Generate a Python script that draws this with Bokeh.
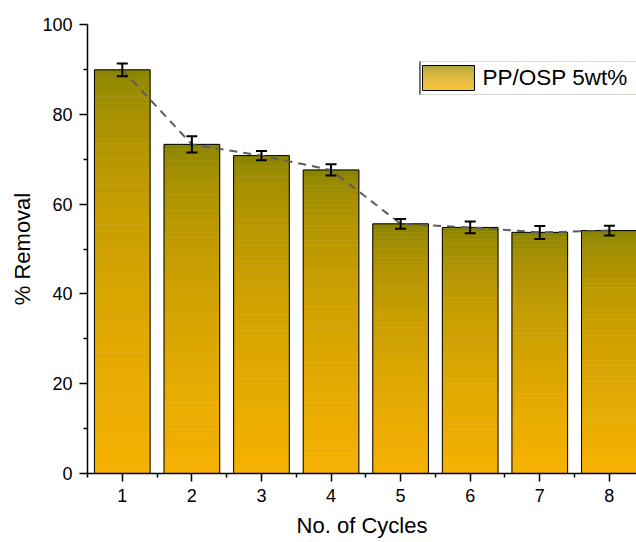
import numpy as np
from bokeh.plotting import figure
from bokeh.models import (Range1d, FixedTicker, ColumnDataSource, Whisker, TeeHead,
                          BoxAnnotation, Label)
from bokeh.embed import file_html
from bokeh.resources import INLINE

# ---- data ----
cycles = [1, 2, 3, 4, 5, 6, 7, 8]
removal = [89.9, 73.3, 70.8, 67.6, 55.6, 54.8, 53.7, 54.1]
removal_err = [1.4, 1.8, 1.05, 1.25, 1.1, 1.3, 1.45, 1.1]
x_ticks = [1, 2, 3, 4, 5, 6, 7, 8]
y_ticks = [0, 20, 40, 60, 80, 100]
y_minor = [10, 30, 50, 70, 90]
series_label = "PP/OSP 5wt%"
x_title = "No. of Cycles"
y_title = "% Removal"

FONT = "Liberation Sans"
TOP_C = np.array([128, 128, 0])
BOT_C = np.array([246, 177, 0])


def grad_color(t):
    """t = 0 at top of the bar, 1 at its bottom."""
    f = t ** 0.5
    c = TOP_C + (BOT_C - TOP_C) * f
    return "#%02x%02x%02x" % tuple(int(round(v)) for v in c)


BAR_W = 0.8
N = 60

# gradient slices built from the data values
sx, sb, st, sc = [], [], [], []
for x, v in zip(cycles, removal):
    for k in range(N):
        sx.append(x)
        sb.append(v * k / N)
        st.append(v * (k + 1) / N)
        sc.append(grad_color(1 - (k + 0.5) / N))
slices = ColumnDataSource(dict(x=sx, bottom=sb, top=st, color=sc))

p = figure(width=636, height=542, output_backend="svg", toolbar_location=None,
           x_range=Range1d(0.5, 8.39), y_range=Range1d(0, 100),
           min_border_left=87, min_border_right=0, min_border_top=24,
           min_border_bottom=69)
p.outline_line_color = None
p.xgrid.visible = False
p.ygrid.visible = False

p.vbar(x="x", bottom="bottom", top="top", width=BAR_W, source=slices,
       fill_color="color", line_color="color", line_width=0.6)
p.vbar(x=cycles, top=removal, width=BAR_W, fill_alpha=0, line_color="black",
       line_width=1)

p.line(cycles, removal, line_dash="8 6", line_color="#5c5c5c", line_width=2)

esrc = ColumnDataSource(dict(x=cycles,
                             upper=[v + e for v, e in zip(removal, removal_err)],
                             lower=[v - e for v, e in zip(removal, removal_err)]))
p.add_layout(Whisker(base="x", upper="upper", lower="lower", source=esrc,
                     line_width=2, line_color="black", level="annotation",
                     upper_head=TeeHead(size=11, line_width=2, line_color="black"),
                     lower_head=TeeHead(size=11, line_width=2, line_color="black")))

# axes
p.xaxis.ticker = FixedTicker(ticks=x_ticks, minor_ticks=[c - 0.5 for c in cycles] + [8.5])
p.yaxis.ticker = FixedTicker(ticks=y_ticks, minor_ticks=y_minor)
for ax in (p.xaxis, p.yaxis):
    ax.axis_line_width = 1.5
    ax.axis_line_color = "black"
    ax.major_tick_line_width = 1.5
    ax.minor_tick_line_width = 1.5
    ax.major_tick_line_color = "black"
    ax.minor_tick_line_color = "black"
    ax.major_tick_in = 0
    ax.major_tick_out = 8
    ax.minor_tick_in = 0
    ax.minor_tick_out = 4
    ax.major_label_text_font = FONT
    ax.major_label_text_font_size = "18px"
    ax.major_label_text_color = "black"
    ax.axis_label_text_font = FONT
    ax.axis_label_text_font_size = "22px"
    ax.axis_label_text_font_style = "normal"
    ax.axis_label_text_color = "black"
    ax.major_label_standoff = 7
p.xaxis.axis_label = x_title
p.yaxis.axis_label = y_title
p.xaxis.axis_label_standoff = 8
p.yaxis.axis_label_standoff = 4

# legend (screen units, origin at frame bottom-left)
p.add_layout(BoxAnnotation(left=332, right=600, bottom=379, top=412,
                           left_units="screen", right_units="screen",
                           bottom_units="screen", top_units="screen",
                           fill_color="white", fill_alpha=1,
                           line_color="#d8d8d8", line_alpha=1, line_width=1,
                           line_dash="solid", level="overlay"))
p.add_layout(BoxAnnotation(left=332, right=333, bottom=379, top=412,
                           left_units="screen", right_units="screen",
                           bottom_units="screen", top_units="screen",
                           fill_color="black", fill_alpha=1, line_alpha=0,
                           level="overlay"))
SW_B, SW_T = 383, 408
NS = SW_T - SW_B
for k in range(NS):
    p.add_layout(BoxAnnotation(left=335, right=387, bottom=SW_B + k, top=SW_B + k + 1,
                               left_units="screen", right_units="screen",
                               bottom_units="screen", top_units="screen",
                               fill_color=grad_color(1 - (k + 0.5) / NS), fill_alpha=1,
                               line_alpha=0, level="overlay"))
p.add_layout(BoxAnnotation(left=335, right=387, bottom=SW_B, top=SW_T,
                           left_units="screen", right_units="screen",
                           bottom_units="screen", top_units="screen",
                           fill_alpha=0, line_color="black", line_alpha=1,
                           line_width=1, line_dash="solid", level="overlay"))
p.add_layout(Label(x=395, y=396, x_units="screen", y_units="screen", text=series_label,
                   text_font=FONT, text_font_size="22.5px", text_color="black",
                   text_baseline="middle", level="overlay"))

open("out.html", "w").write(file_html(p, INLINE))
